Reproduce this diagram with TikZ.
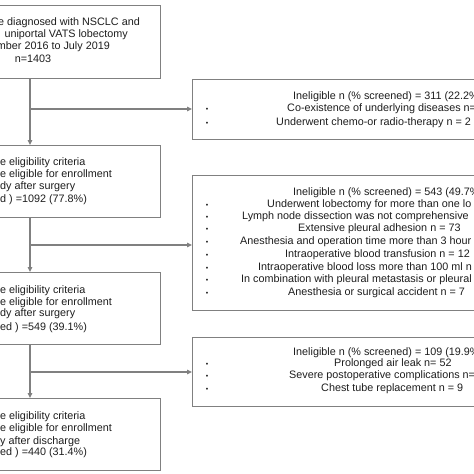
\documentclass[tikz,border=0pt]{standalone}
\usepackage{fontspec}
\setmainfont{Liberation Sans}
\usetikzlibrary{arrows.meta}
\definecolor{linec}{HTML}{808080}
\definecolor{textc}{HTML}{1E1E1E}
\tikzset{
  box/.style={draw=linec, line width=1.4pt, anchor=north west, inner sep=0pt},
  conn/.style={draw=linec, line width=1.3pt, -{Triangle[length=5pt,width=4.5pt]}},
  txt/.style={anchor=mid west, inner sep=0pt, text=textc, font=\fontsize{10.8}{12.5}\selectfont},
  txtr/.style={txt, anchor=mid east},
  txtc/.style={txt, anchor=mid},
  bul/.style={anchor=mid, inner sep=0pt, text=textc, font=\fontsize{7}{7}\selectfont}
}
\begin{document}
\begin{tikzpicture}[x=1pt,y=-1pt]
\useasboundingbox (0,0) rectangle (474,474);
\clip (0,0) rectangle (474,474);
\fill[white] (0,0) rectangle (474,474);
% left boxes
\node[box, minimum width=210pt, minimum height=73pt] (b1) at (-50,5) {};
\node[box, minimum width=210pt, minimum height=72pt] (b2) at (-50,145) {};
\node[box, minimum width=210pt, minimum height=72pt] (b3) at (-50,272) {};
\node[box, minimum width=210pt, minimum height=72pt] (b4) at (-50,398) {};
% right boxes
\node[box, minimum width=340pt, minimum height=60pt] (r1) at (192,79) {};
\node[box, minimum width=340pt, minimum height=135pt] (r2) at (192,175) {};
\node[box, minimum width=340pt, minimum height=69pt] (r3) at (192,337) {};
% junctions
\coordinate (j1) at (30,109);
\coordinate (j2) at (30,245);
\coordinate (j3) at (30,372);
% connectors
\draw[conn] (b1.south -| j1) -- (b2.north -| j1);
\draw[conn] (j1) -- (r1.west |- j1);
\draw[conn] (b2.south -| j2) -- (b3.north -| j2);
\draw[conn] (j2) -- (r2.west |- j2);
\draw[conn] (b3.south -| j3) -- (b4.north -| j3);
\draw[conn] (j3) -- (r3.west |- j3);
% box 1 text
\node[txtr] (a1) at (140,23) {e diagnosed with NSCLC and};
\node[txtr] (a2) at (128,35) {uniportal VATS lobectomy};
\node[txtr] (a3) at (110,47) {mber 2016 to July 2019};
\node[txtc] (a4) at (33,60) {n=1403};
% box 2 text
\node[txt] (c1) at (0,163) {e eligibility criteria};
\node[txt] (c2) at (0,175) {e eligible for enrollment};
\node[txt] (c3) at (0,187) {dy after surgery};
\node[txt] (c4) at (0,200) {d ) =1092 (77.8\%)};
% box 3 text
\node[txt] (d1) at (0,290.5) {e eligibility criteria};
\node[txt] (d2) at (0,302.5) {e eligible for enrollment};
\node[txt] (d3) at (0,314) {dy after surgery};
\node[txt] (d4) at (0,327.5) {ed ) =549 (39.1\%)};
% box 4 text
\node[txt] (e1) at (0,417) {e eligibility criteria};
\node[txt] (e2) at (0,429) {e eligible for enrollment};
\node[txt] (e3) at (0,441.5) {y after discharge};
\node[txt] (e4) at (0,453) {ed ) =440 (31.4\%)};
% right box 1
\node[txt] (f1) at (293,97) {Ineligible n (\% screened) = 311 (22.2\%};
\node[txt] (f2) at (287,109) {Co-existence of underlying diseases n=};
\node[txt] (f3) at (276,123) {Underwent chemo-or radio-therapy n = 2};
\node[bul] (fb2) at (207,109) {•};
\node[bul] (fb3) at (207,123) {•};
% right box 2
\node[txt] (g1) at (293,193) {Ineligible n (\% screened) = 543 (49.7\%};
\node[txt] (g2) at (267,205) {Underwent lobectomy for more than one lo};
\node[txt] (g3) at (242,216.5) {Lymph node dissection was not comprehensive};
\node[txt] (g4) at (298,228.5) {Extensive pleural adhesion n = 73};
\node[txt] (g5) at (240,242) {Anesthesia and operation time more than 3 hour};
\node[txt] (g6) at (285,255) {Intraoperative blood transfusion n = 12};
\node[txt] (g7) at (258,268) {Intraoperative blood loss more than 100 ml n};
\node[txt] (g8) at (241,280) {In combination with pleural metastasis or pleural};
\node[txt] (g9) at (288,293) {Anesthesia or surgical accident n = 7};
\foreach \yy/\nm in {205/2,216.5/3,228.5/4,242/5,255/6,268/7,280/8,293/9}
  \node[bul] (gb\nm) at (207,\yy) {•};
% right box 3
\node[txt] (h1) at (293,353) {Ineligible n (\% screened) = 109 (19.9\%};
\node[txt] (h2) at (334,364) {Prolonged air leak n= 52};
\node[txt] (h3) at (289,375.5) {Severe postoperative complications n=};
\node[txt] (h4) at (321,389) {Chest tube replacement n = 9};
\node[bul] (hb2) at (207,364) {•};
\node[bul] (hb3) at (207,375.5) {•};
\node[bul] (hb4) at (207,389) {•};
\end{tikzpicture}
\end{document}
